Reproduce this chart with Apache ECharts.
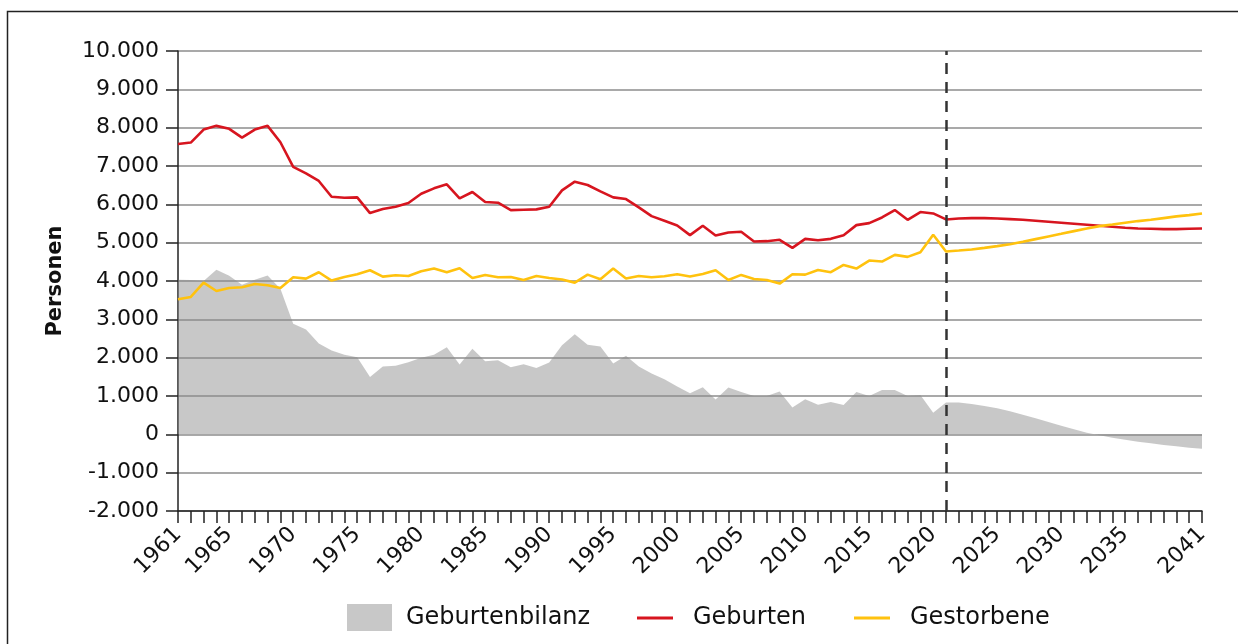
<!DOCTYPE html>
<html>
<head>
<meta charset="utf-8">
<script src="https://cdn.jsdelivr.net/npm/echarts@6/dist/echarts.min.js"></script>
<style>
  html, body { margin: 0; padding: 0; background: #fff; }
  #chart { width: 1238px; height: 644px; }
</style>
</head>
<body>
<div id="chart"></div>
<script>
// years 1961 - 2041
const years = [];
for (let y = 1961; y <= 2041; y++) years.push(String(y));

const geburten = [
  7576, 7611, 7951, 8047, 7969, 7742, 7951, 8047, 7620, 6975,
  6809, 6609, 6199, 6173, 6181, 5772, 5876, 5937, 6033, 6277,
  6417, 6521, 6155, 6321, 6059, 6042, 5850, 5859, 5868, 5937,
  6364, 6591, 6504, 6338, 6181, 6138, 5920, 5693, 5571, 5449,
  5196, 5440, 5187, 5266, 5283, 5030, 5039, 5074, 4865, 5100,
  5065, 5100, 5196, 5458, 5510, 5658, 5850, 5597, 5798, 5763,
  5606, 5632, 5641, 5641, 5632, 5615, 5597, 5571, 5545, 5519,
  5493, 5467, 5441, 5415, 5389, 5371, 5362, 5353, 5353, 5362,
  5371
];

const gestorbene = [
  3522, 3583, 3958, 3740, 3819, 3836, 3923, 3888, 3819, 4098,
  4063, 4229, 4010, 4106, 4176, 4281, 4115, 4150, 4132, 4254,
  4324, 4229, 4333, 4080, 4159, 4098, 4106, 4028, 4132, 4080,
  4037, 3958, 4167, 4045, 4324, 4063, 4132, 4098, 4124, 4176,
  4115, 4185, 4281, 4028, 4159, 4054, 4028, 3932, 4176, 4167,
  4289, 4229, 4420, 4324, 4533, 4507, 4681, 4629, 4751, 5205,
  4769, 4795, 4822, 4865, 4909, 4961, 5022, 5092, 5162, 5231,
  5301, 5371, 5432, 5475, 5519, 5563, 5597, 5641, 5685, 5719,
  5763
];

const bilanz = [
  4033, 4024, 3998, 4294, 4138, 3902, 4033, 4146, 3798, 2883,
  2735, 2369, 2186, 2073, 2012, 1498, 1768, 1786, 1882, 1995,
  2073, 2274, 1821, 2230, 1908, 1934, 1751, 1829, 1733, 1873,
  2326, 2613, 2334, 2291, 1847, 2047, 1768, 1585, 1437, 1246,
  1071, 1228, 906, 1220, 1106, 1002, 1002, 1115, 697, 915,
  775, 845, 767, 1106, 1002, 1159, 1159, 1002, 1028, 566,
  828, 828, 793, 740, 679, 601, 514, 418, 322, 226,
  131, 44, -26, -87, -139, -192, -235, -279, -314, -348,
  -375
];

const labelYears = ['1961', '1965', '1970', '1975', '1980', '1985', '1990', '1995',
  '2000', '2005', '2010', '2015', '2020', '2025', '2030', '2035', '2041'];

const prognoseStart = '2021';

const font = 'DejaVu Sans';
const lineIcon = 'path://M0,10L36,10L36,13L0,13Z';

function fmt(v) {
  const s = String(Math.abs(v)).replace(/\B(?=(\d{3})+(?!\d))/g, '.');
  return (v < 0 ? '-' : '') + s;
}

function legendItem(name, left, top, icon, w, pad) {
  return {
    left: left,
    top: top,
    itemWidth: w,
    itemHeight: 27,
    textStyle: { fontSize: 24, color: '#111', fontFamily: font, padding: [0, 0, 0, pad] },
    data: [{ name: name, icon: icon }]
  };
}

const chart = echarts.init(document.getElementById('chart'));

const option = {
  backgroundColor: '#fff',
  animation: false,
  textStyle: { fontFamily: font },
  graphic: [{
    type: 'rect',
    shape: { x: 7.5, y: 11.5, width: 1300, height: 700 },
    style: { fill: 'none', stroke: '#222', lineWidth: 1.5 },
    silent: true
  }],
  grid: { left: 178, right: 36, top: 51, bottom: 133 },
  legend: [
    legendItem('Geburtenbilanz', 342, 599, 'rect', 45, 9),
    legendItem('Geburten', 632, 601, lineIcon, 36, 15),
    legendItem('Gestorbene', 849, 601, lineIcon, 36, 15)
  ],
  xAxis: {
    type: 'category',
    data: years,
    boundaryGap: false,
    axisLine: { onZero: false, lineStyle: { color: '#222', width: 1.5 } },
    axisTick: { interval: 0, length: 12, lineStyle: { color: '#222', width: 1.5 } },
    axisLabel: {
      interval: function (i, v) { return labelYears.indexOf(v) >= 0; },
      rotate: 45,
      fontSize: 22,
      color: '#111',
      margin: 20,
      fontFamily: font
    },
    splitLine: { show: false }
  },
  yAxis: {
    type: 'value',
    min: -2000,
    max: 10000,
    interval: 1000,
    name: 'Personen',
    nameLocation: 'middle',
    nameGap: 112,
    nameTextStyle: { fontSize: 21, fontWeight: 'bold', color: '#111', fontFamily: font },
    axisLine: { show: true, lineStyle: { color: '#222', width: 1.5 } },
    axisTick: { show: true, length: 12, lineStyle: { color: '#222', width: 1.5 } },
    axisLabel: { formatter: fmt, fontSize: 22, color: '#111', margin: 19, fontFamily: font },
    splitLine: { lineStyle: { color: '#8c8c8c', width: 1.5 } }
  },
  series: [
    {
      name: 'Geburtenbilanz',
      type: 'line',
      data: bilanz,
      symbol: 'none',
      lineStyle: { width: 0 },
      itemStyle: { color: 'rgba(140,140,140,0.48)' },
      areaStyle: { color: 'rgba(140,140,140,0.48)', opacity: 1 },
      z: 2
    },
    {
      name: 'Geburten',
      type: 'line',
      data: geburten,
      symbol: 'none',
      itemStyle: { color: '#d7151f' },
      lineStyle: { color: '#d7151f', width: 2.6 },
      z: 3,
      markLine: {
        silent: true,
        symbol: 'none',
        label: { show: false },
        lineStyle: { color: '#333', width: 2.5, type: [11, 8] },
        data: [{ xAxis: prognoseStart }]
      }
    },
    {
      name: 'Gestorbene',
      type: 'line',
      data: gestorbene,
      symbol: 'none',
      itemStyle: { color: '#ffc20e' },
      lineStyle: { color: '#ffc20e', width: 2.6 },
      z: 4
    }
  ]
};

chart.setOption(option);
</script>
</body>
</html>
